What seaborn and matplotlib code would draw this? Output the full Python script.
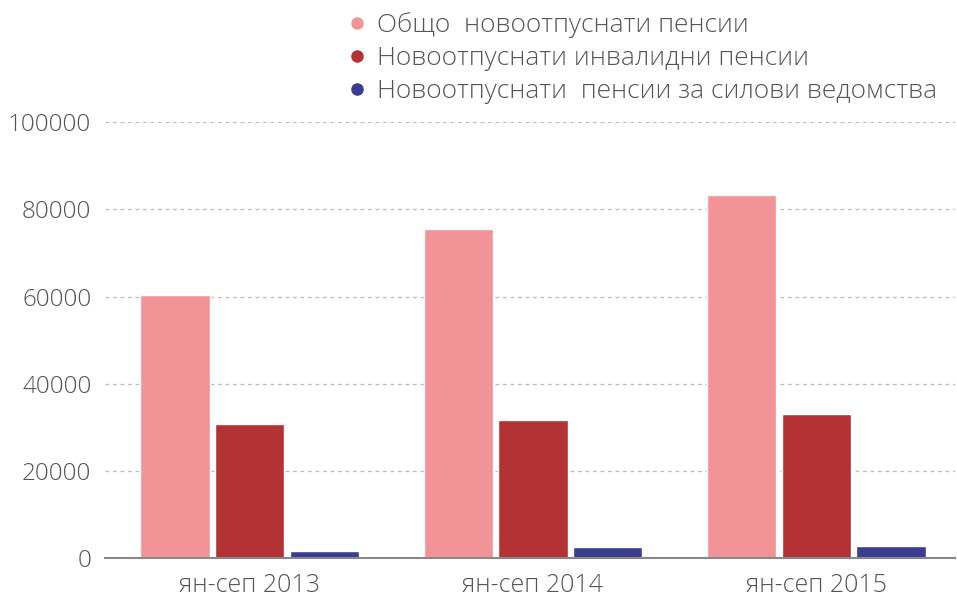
import matplotlib
matplotlib.use("Agg")
import matplotlib.pyplot as plt
import seaborn as sns
import pandas as pd
from matplotlib.lines import Line2D

categories = ["ян-сеп 2013", "ян-сеп 2014", "ян-сеп 2015"]
series_names = ["Общо  новоотпуснати пенсии",
                "Новоотпуснати инвалидни пенсии",
                "Новоотпуснати  пенсии за силови ведомства"]
total = [60300, 75500, 83300]
disability = [30700, 31700, 33000]
security = [1600, 2500, 2700]
colors = ["#F29497", "#B33234", "#3B3D94"]
yticks = [0, 20000, 40000, 60000, 80000, 100000]

rows = []
for name, vals in zip(series_names, [total, disability, security]):
    for c, v in zip(categories, vals):
        rows.append({"cat": c, "series": name, "value": v})
df = pd.DataFrame(rows)

sns.set_theme(style="white")
plt.rcParams['font.family'] = ['Open Sans', 'DejaVu Sans']

fig = plt.figure(figsize=(9.57, 6.01), dpi=100)
ax = fig.add_axes([0.11, 0.0716, 0.888, 0.725])
sns.barplot(data=df, x="cat", y="value", hue="series", palette=colors,
            width=0.79, gap=0.07, ax=ax, legend=False, saturation=1)

ax.set_ylim(0, 100000)
ax.set_xlim(-0.51, 2.49)
ax.set_yticks(yticks)
ax.set_yticklabels([str(t) for t in yticks])
ax.yaxis.grid(True, linestyle=(0, (3, 3)), color="#bbbbbb", linewidth=0.9)
ax.set_axisbelow(True)
for s in ["top", "right", "left"]:
    ax.spines[s].set_visible(False)
ax.spines["bottom"].set_color("#888888")
ax.spines["bottom"].set_linewidth(1.5)
ax.set_xlabel("")
ax.set_ylabel("")
ax.tick_params(axis="both", length=0, labelcolor="#555555")
ax.tick_params(axis="y", pad=10, labelsize=17.5)
ax.tick_params(axis="x", pad=11, labelsize=18)
for lab in ax.get_xticklabels() + ax.get_yticklabels():
    lab.set_fontweight("light")

handles = [Line2D([0], [0], marker="o", color="none", markerfacecolor=c,
                  markeredgecolor=c, markersize=8) for c in colors]
leg = fig.legend(handles, series_names, loc="upper left",
                 bbox_to_anchor=(0.355, 0.997), frameon=False,
                 fontsize=19, handlelength=0.5, handletextpad=0.5,
                 labelspacing=0.3, borderaxespad=0)
for t in leg.get_texts():
    t.set_color("#555555")
    t.set_fontweight("light")

fig.savefig("out.png", dpi=100)
